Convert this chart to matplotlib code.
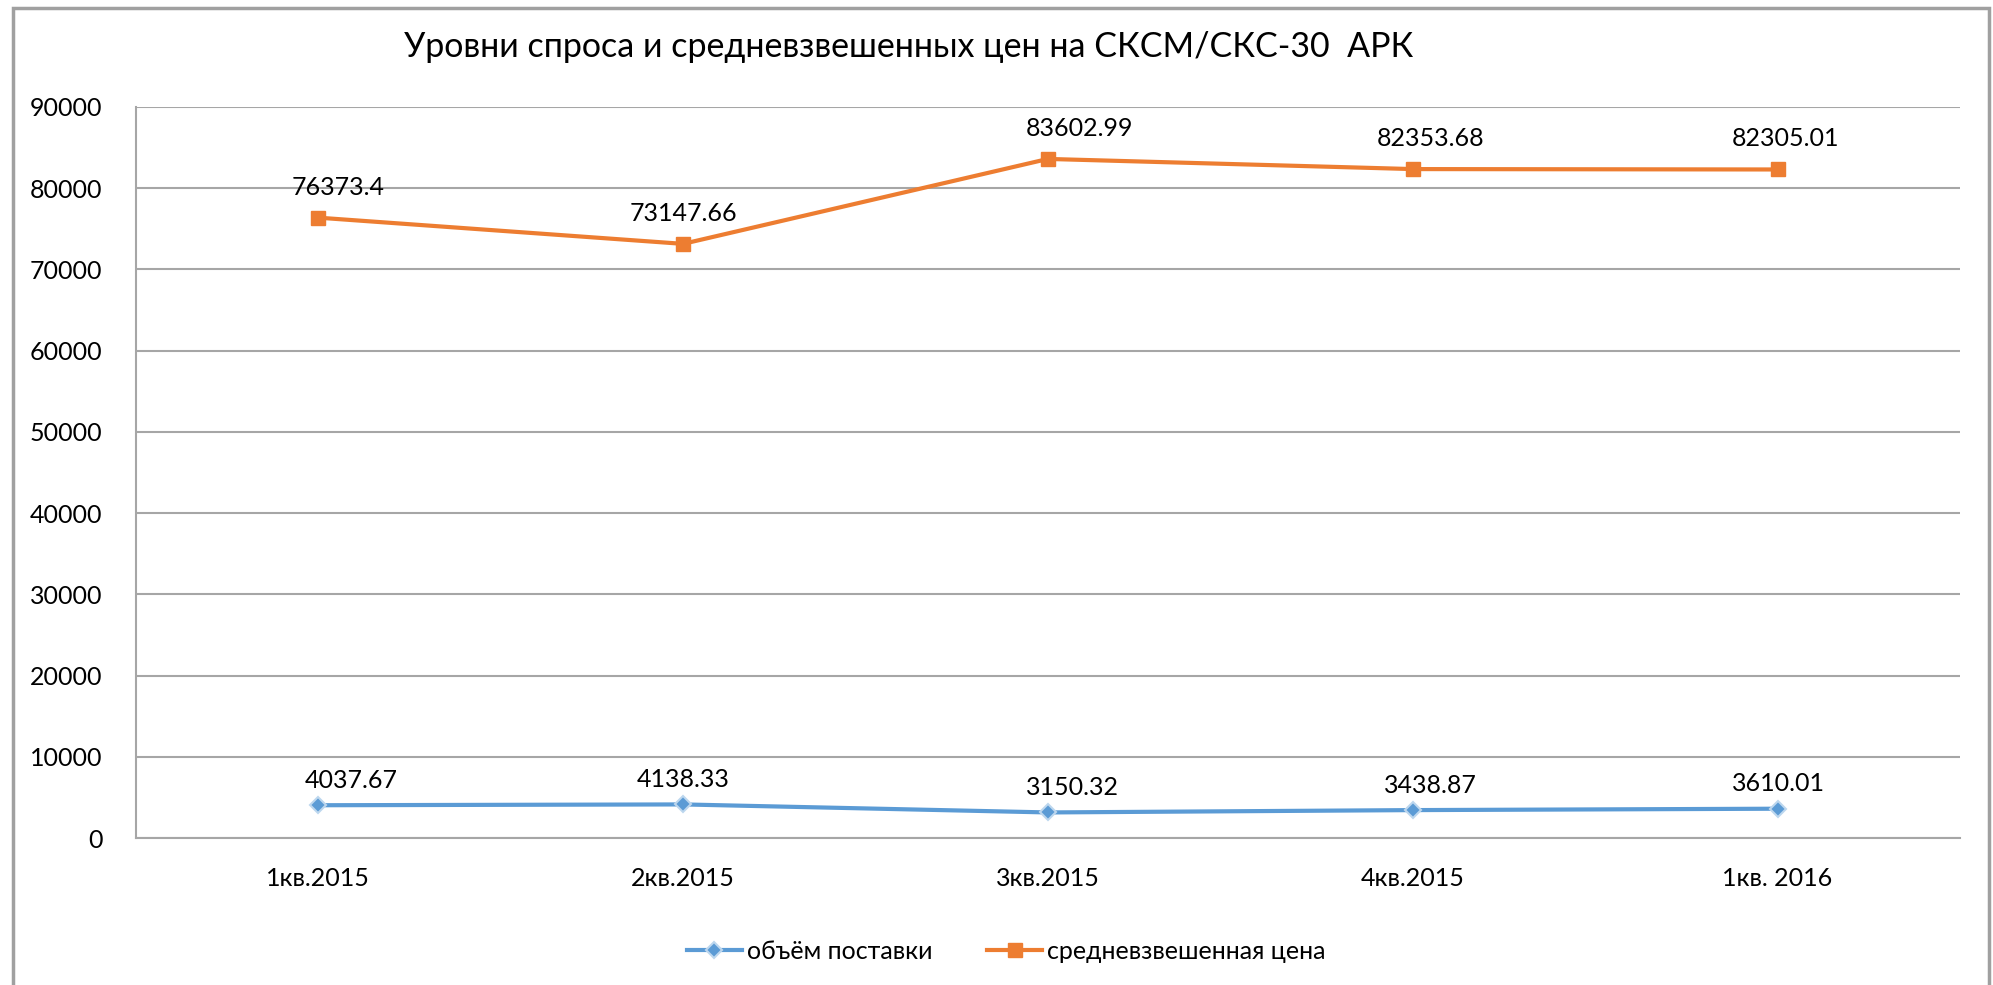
import matplotlib.pyplot as plt
from matplotlib.patches import Rectangle

plt.rcParams['font.family'] = ['Lato', 'DejaVu Sans']

quarters = ["1кв.2015", "2кв.2015", "3кв.2015", "4кв.2015", "1кв. 2016"]
volume = [4037.67, 4138.33, 3150.32, 3438.87, 3610.01]
price = [76373.4, 73147.66, 83602.99, 82353.68, 82305.01]
volume_labels = ["4037.67", "4138.33", "3150.32", "3438.87", "3610.01"]
price_labels = ["76373.4", "73147.66", "83602.99", "82353.68", "82305.01"]

# label nudges (points), as placed in the original
price_dx = [14, 0, 23, 13, 6]
volume_dx = [24, 0, 18, 13, 1]

fig = plt.figure(figsize=(19.93, 9.85), dpi=100)
ax = fig.add_axes([0.0682, 0.1492, 0.9152, 0.7422])

x = range(len(quarters))
ax.plot(x, volume, color="#5B9BD5", lw=3, marker="D", ms=8,
		mfc="#5B9BD5", mec="#BDD7EE", mew=1.5, label="объём поставки", zorder=3)
ax.plot(x, price, color="#ED7D31", lw=3, marker="s", ms=10,
		mfc="#ED7D31", mec="#ED7D31", label="средневзвешенная цена", zorder=3)

for i in x:
	ax.annotate(price_labels[i], (i, price[i]), xytext=(price_dx[i], 22),
				textcoords="offset points", ha="center", va="center", fontsize=18)
	ax.annotate(volume_labels[i], (i, volume[i]), xytext=(volume_dx[i], 18),
				textcoords="offset points", ha="center", va="center", fontsize=18)

ax.set_xlim(-0.5, len(quarters) - 0.5)
ax.set_ylim(0, 90000)
ax.set_yticks(range(0, 90001, 10000))
ax.set_yticklabels([str(v) for v in range(0, 90001, 10000)])
ax.set_xticks(list(x))
ax.set_xticklabels(quarters)
ax.tick_params(axis="both", length=0, labelsize=18)
ax.tick_params(axis="y", pad=24)
ax.tick_params(axis="x", pad=21)

ax.grid(axis="y", color="#A6A6A6", lw=1.5)
ax.set_axisbelow(True)
for side in ["top", "right"]:
	ax.spines[side].set_visible(False)
for side in ["left", "bottom"]:
	ax.spines[side].set_color("#A6A6A6")
	ax.spines[side].set_linewidth(1.5)

fig.text(0.456, 0.952, "Уровни спроса и средневзвешенных цен на СКСМ/СКС-30  АРК",
		 ha="center", va="center", fontsize=24.5)

fig.legend(loc="center", bbox_to_anchor=(0.505, 0.034), ncol=2, frameon=False,
		   fontsize=18, handlelength=2.2, columnspacing=2.2, handletextpad=0.2)

frame = Rectangle((13 / 1993, -0.05), (1989 - 13) / 1993, 1.05 - 8 / 985,
				  transform=fig.transFigure, fill=False, ec="#A0A0A0", lw=2.5,
				  clip_on=False)
fig.patches.append(frame)

fig.savefig("out.png", dpi=100)
